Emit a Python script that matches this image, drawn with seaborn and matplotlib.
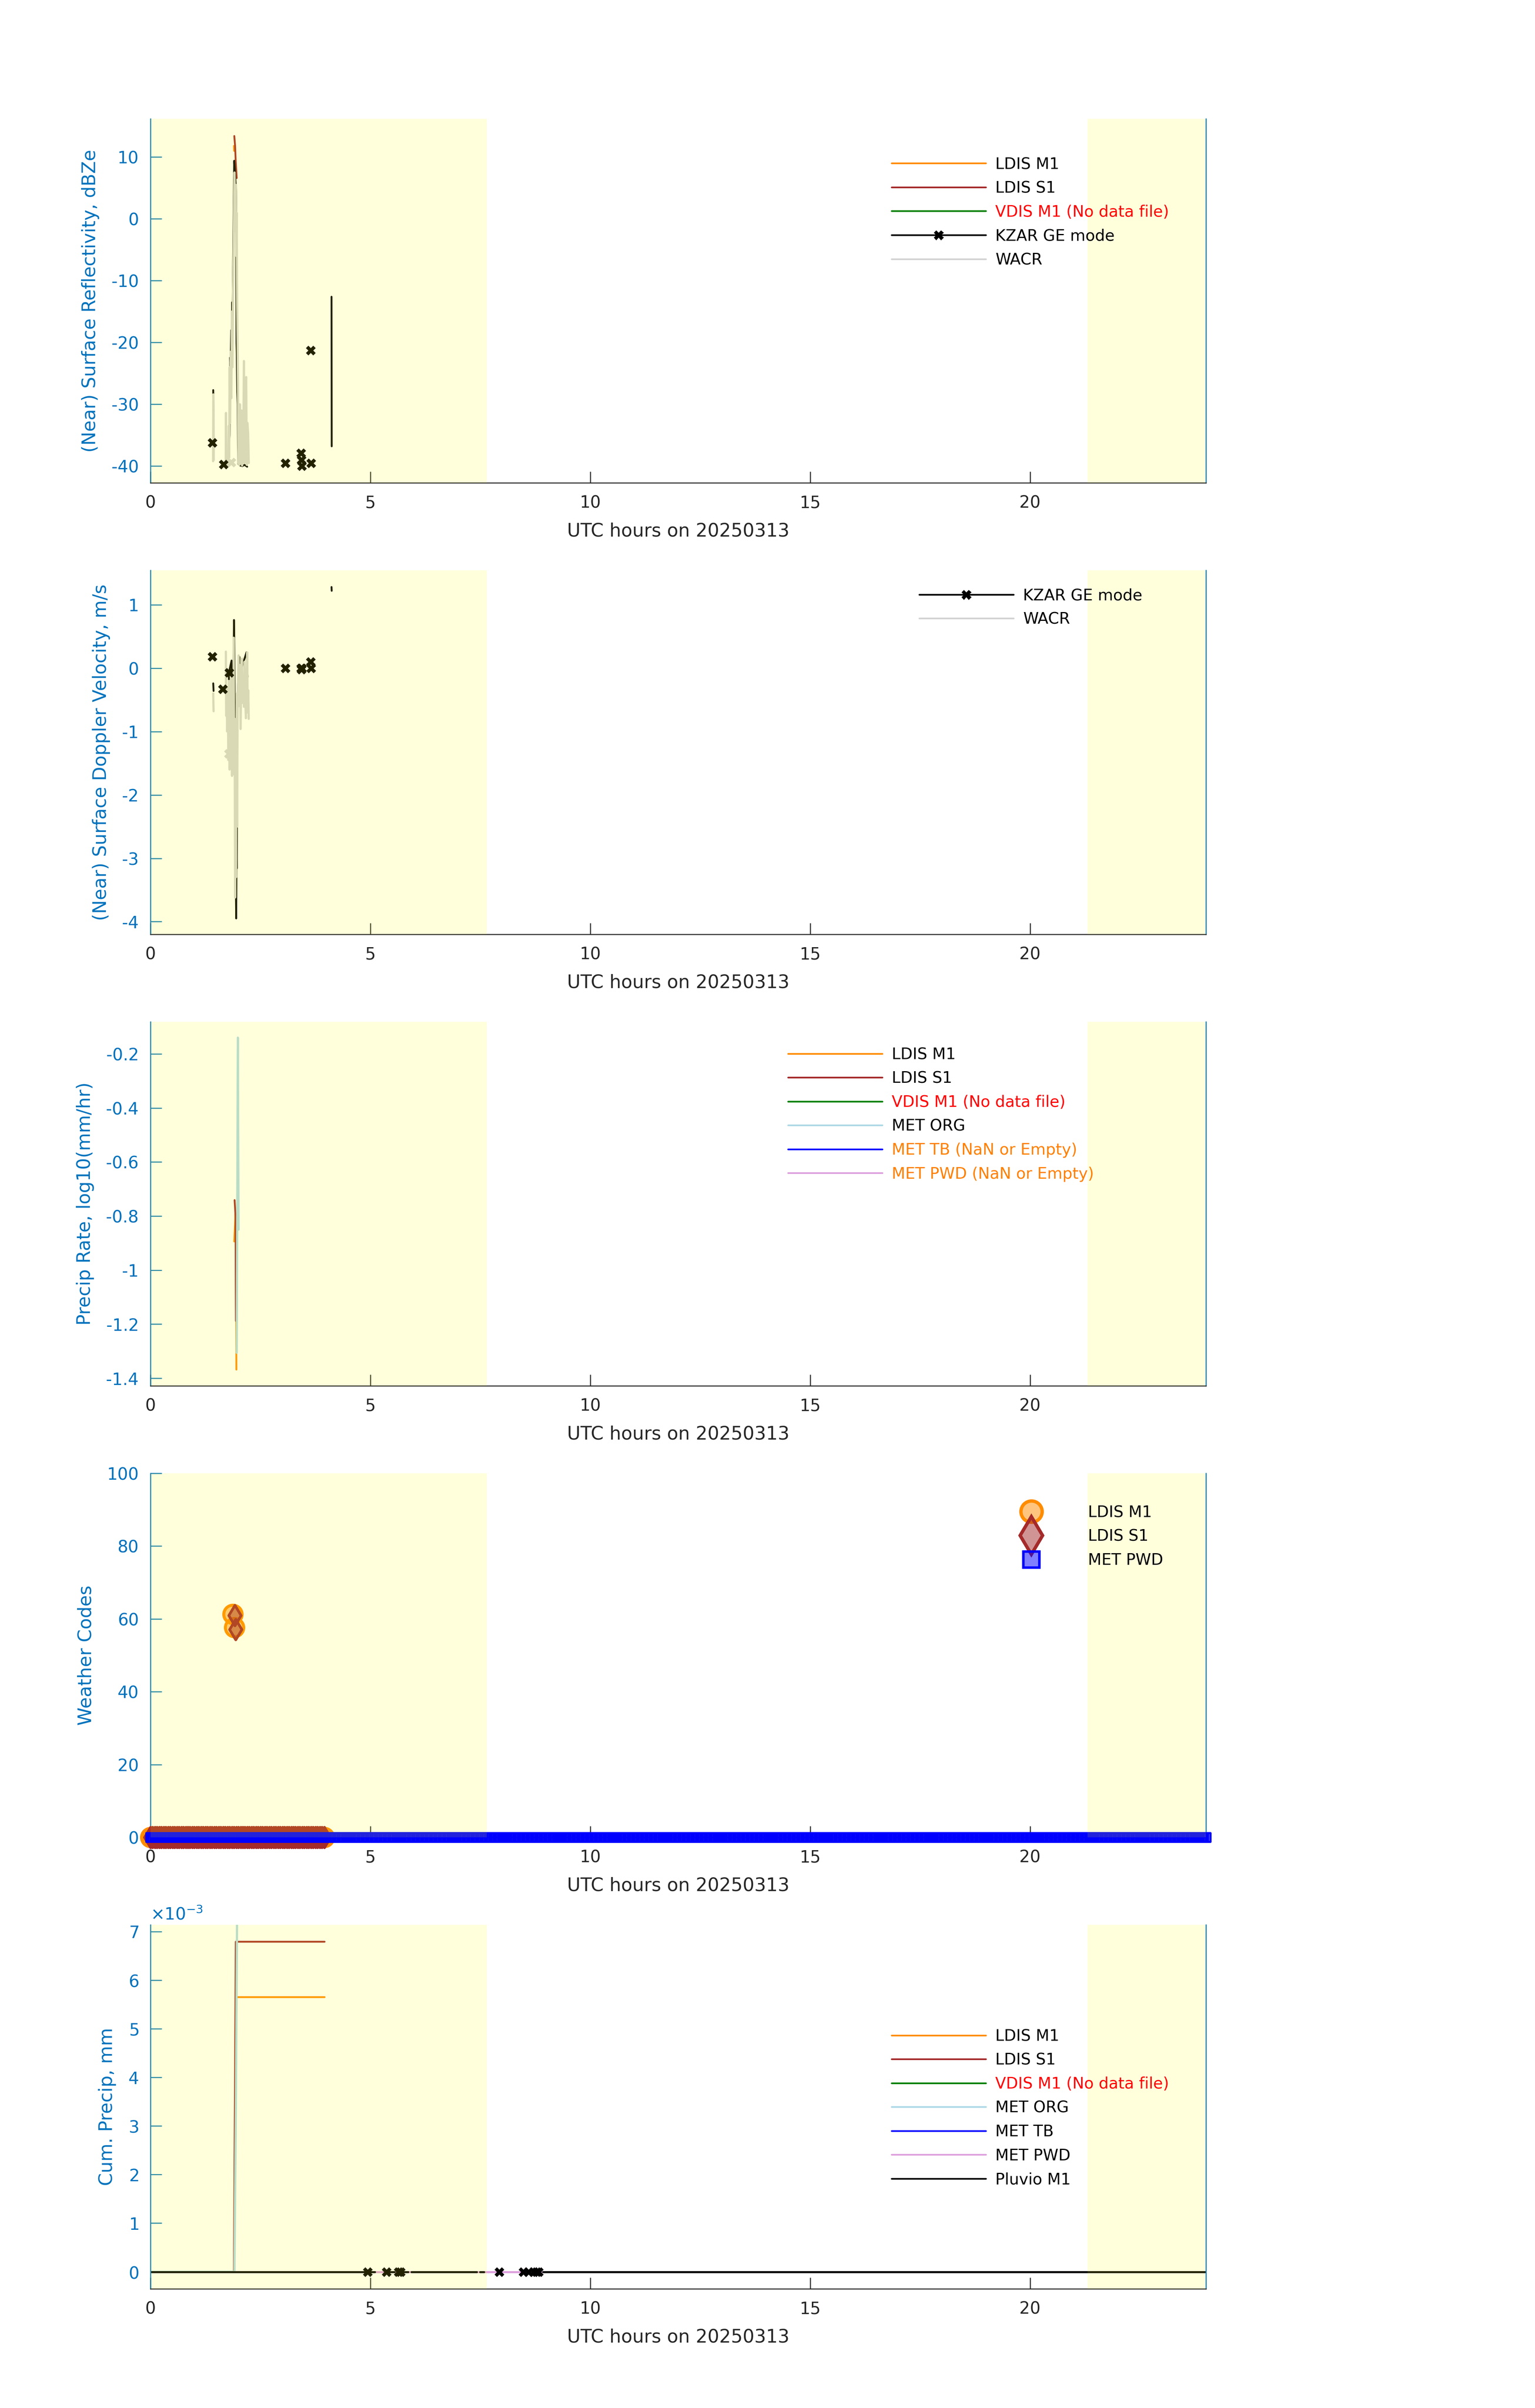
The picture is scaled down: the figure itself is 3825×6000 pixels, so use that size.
import numpy as np
import pandas as pd
import matplotlib
matplotlib.use("Agg")
import matplotlib.pyplot as plt
import seaborn as sns
from matplotlib.lines import Line2D
from matplotlib.ticker import FuncFormatter, ScalarFormatter

sns.set_theme(style="white")
plt.rcParams["font.family"] = ["DejaVu Sans"]
plt.rcParams["axes.unicode_minus"] = False

nan = np.nan

# colours
C_M1 = "#FF8C00"
C_S1 = "#A52A2A"
C_VD = "#008000"
C_ORG = "#ADD8E6"
C_TB = "#0000FF"
C_PWD = "#DDA0DD"
C_WACR = "#D3D3D3"
BLUE = "#0072BD"
DARK = "#262626"

# night shading (UTC hours)
night_start = [0.0, 21.31]
night_end = [7.65, 24.0]

# ---- panel 1: surface reflectivity (dBZe) ----
wacr_t1 = [1.425, 1.430, 1.436, 1.440, nan, 1.712, 1.718, 1.725, nan,
           1.765, 1.780, 1.792, 1.800, 1.812, 1.825, 1.840, 1.852, 1.865, 1.878,
           1.890, 1.902, 1.912, 1.922, 1.932, 1.942, 1.952, 1.962, 1.972, 1.982,
           1.992, 2.002, 2.012, 2.022, 2.035, 2.048, 2.060, 2.072, 2.085, 2.098,
           2.110, 2.125, 2.135, 2.148, 2.162, 2.178, 2.190, 2.205, 2.222, 2.236]
wacr_z1 = [-39.2, -28.4, -31.0, -39.0, nan, -39.5, -31.4, -39.6, nan,
           -39.8, -33.5, -38.6, -24.0, -33.0, -21.5, -29.0, -15.0, -24.0, -12.0,
           -6.0, 2.0, 7.5, 3.5, -2.0, 5.5, -6.0, 1.0, -14.0, -20.0,
           -27.0, -39.6, -33.0, -39.8, -30.0, -39.6, -36.0, -31.0, -39.9, -32.5,
           -39.0, -23.0, -39.5, -36.0, -29.0, -25.6, -39.8, -33.0, -34.7, -39.5]
wacr_mark_t1 = [1.84]
wacr_mark_z1 = [-39.4]

kzar_t1 = [1.428, 1.432, 1.440, nan,
           1.775, 1.782, 1.800, 1.815, 1.822, 1.838, 1.845, 1.858, 1.870, 1.885,
           1.905, 1.920, 1.935, 1.948, 1.958, 1.965, 1.975, 1.985, 1.995, 2.040,
           2.090, 2.140, 2.200, nan, 4.118, 4.122]
kzar_z1 = [-27.7, -31.0, -38.4, nan,
           -36.8, -37.7, -35.0, -22.4, -23.5, -18.0, -20.2, -13.5, -15.0, -4.0,
           9.4, 8.0, 6.0, 4.5, -20.0, -22.0, -28.0, -30.0, -39.6, -39.9,
           -40.0, -39.8, -40.1, nan, -12.6, -36.8]
kzar_mark_t1 = [1.41, 1.66, 3.07, 3.42, 3.43, 3.44, 3.64, 3.65]
kzar_mark_z1 = [-36.2, -39.7, -39.5, -37.9, -39.0, -40.0, -21.3, -39.5]

ldis_m1_t1 = [1.900, 1.904]
ldis_m1_z1 = [11.8, 11.0]
ldis_s1_t1 = [1.907, 1.925, 1.940, 1.962]
ldis_s1_z1 = [13.4, 11.8, 9.2, 6.6]

# ---- panel 2: surface Doppler velocity (m/s) ----
wacr_t2 = [1.428, 1.432, 1.436, nan,
           1.715, 1.722, 1.732, 1.745, 1.758, 1.772, 1.785, 1.800, 1.812, 1.825,
           1.840, 1.855, 1.868, 1.882, 1.895, 1.905, 1.915, 1.925, 1.935, 1.945,
           1.955, 1.962, 1.972, 1.982, 1.992, 2.005, 2.020, 2.035, 2.050, 2.065,
           2.080, 2.095, 2.110, 2.125, 2.140, 2.155, 2.170, 2.185, 2.200, 2.212,
           2.225, 2.235]
wacr_v2 = [-0.40, -0.55, -0.68, nan,
           0.26, -0.75, -0.45, -1.00, -0.30, -1.45, -0.20, -1.60, -0.50, -1.10,
           -0.15, -1.70, -0.60, -1.20, 0.48, -1.68, -0.80, -3.62, -1.90, -3.30,
           -1.20, -0.40, -2.50, -0.70, -0.20, 0.20, -0.60, 0.05, -0.96, -0.20,
           0.15, -0.55, -0.25, -0.61, 0.10, -0.45, -0.79, -0.30, 0.25, -0.70,
           -0.35, -0.80]
wacr_mark_t2 = [1.785]
wacr_mark_v2 = [-1.35]

kzar_t2 = [1.428, 1.432, 1.436, nan,
           1.725, 1.732, 1.768, 1.775, 1.785, 1.845, 1.852, 1.860, 1.866, 1.900,
           1.906, 1.925, 1.930, 1.945, 1.950, 1.958, 1.963, 1.975, 2.020, 2.026,
           2.185, 2.192, 2.210, nan, 4.118, 4.122]
kzar_v2 = [-0.24, -0.30, -0.36, nan,
           -0.51, -0.74, -0.95, -1.35, -0.07, 0.12, -0.06, -1.50, -1.65, 0.76,
           0.50, -1.68, -1.95, -3.62, -3.95, -2.81, -3.16, -0.50, 0.18, -0.10,
           0.25, 0.15, -0.14, nan, 1.28, 1.22]
kzar_mark_t2 = [1.41, 1.64, 1.79, 3.07, 3.42, 3.43, 3.44, 3.64, 3.65]
kzar_mark_v2 = [0.185, -0.33, -0.07, 0.0, 0.0, -0.02, 0.0, 0.10, 0.0]

# ---- panel 3: precip rate, log10(mm/hr) ----
rate_m1_t = [1.906, 1.935, 1.955]
rate_m1 = [-0.894, -0.79, -1.368]
rate_s1_t = [1.914, 1.935, 1.944]
rate_s1 = [-0.741, -0.80, -1.188]
rate_org_t = [1.962, 1.988, 2.004]
rate_org = [-1.306, -0.14, -0.85]

# ---- panel 4: weather codes ----
code_step = 0.05
ldis_band_t = np.arange(0.0, 3.96, code_step)
pwd_band_t = np.arange(0.0, 24.01, code_step)
code_m1_rain_t = [1.87, 1.91]
code_m1_rain = [61.3, 57.6]
code_s1_rain_t = [1.92, 1.94]
code_s1_rain = [61.0, 57.1]

# ---- panel 5: cumulative precip (mm) ----
cum_m1_t = [0.0, 1.905, 1.955, 3.96]
cum_m1 = [0.0, 0.0, 0.00565, 0.00565]
cum_s1_t = [0.0, 1.898, 1.941, 3.96]
cum_s1 = [0.0, 0.0, 0.00679, 0.00679]
cum_org_t = [0.0, 1.91, 1.94, 1.975, 2.01, 3.96]
cum_org = [0.0, 0.0, 0.0030, 0.0080, 0.020, 0.030]
cum_tb_t = [0.0, 24.0]
cum_tb = [0.0, 0.0]
cum_pwd_t = [0.0, 24.0]
cum_pwd = [0.0, 0.0]
pluvio_t = [0.0, 4.88, nan, 4.99, 5.10, nan, 5.42, 5.55, nan, 5.74, 5.86, nan,
            5.93, 7.42, nan, 7.49, 7.58, nan, 8.93, 24.0]
pluvio = [0.0, 0.0, nan, 0.0, 0.0, nan, 0.0, 0.0, nan, 0.0, 0.0, nan,
          0.0, 0.0, nan, 0.0, 0.0, nan, 0.0, 0.0]
pluvio_mark_t = [4.94, 5.37, 5.64, 5.69, 7.93, 8.48, 8.60, 8.72, 8.78, 8.83]
pluvio_mark = [0.0] * len(pluvio_mark_t)


def seg_line(ax, t, v, color, lw=1.1):
    df = pd.DataFrame({"t": t, "v": v})
    df["seg"] = df["v"].isna().cumsum()
    df = df.dropna()
    sns.lineplot(data=df, x="t", y="v", units="seg", estimator=None, sort=False,
                 color=color, lw=lw, ax=ax, legend=False, zorder=2)


def x_marks(ax, t, v, color):
    sns.scatterplot(x=t, y=v, marker="X", s=34, color=color, linewidth=0,
                    ax=ax, legend=False, zorder=2.2)


def style_ax(ax, ylim, yticks, ylabel):
    ax.set_xlim(0, 24)
    ax.set_ylim(*ylim)
    ax.set_xticks([0, 5, 10, 15, 20])
    ax.set_yticks(yticks)
    ax.spines["top"].set_visible(False)
    ax.spines["left"].set_color(BLUE)
    ax.spines["right"].set_color(BLUE)
    ax.spines["bottom"].set_color(DARK)
    for s in ax.spines.values():
        s.set_linewidth(0.6)
    ax.tick_params(axis="y", direction="in", length=6.7, width=0.6, colors=BLUE,
                   labelsize=10, pad=7, left=True)
    ax.tick_params(axis="x", direction="in", length=6.7, width=0.6, colors=DARK,
                   labelsize=10, pad=7, bottom=True)
    ax.set_xlabel("UTC hours on 20250313", fontsize=11, color=DARK, labelpad=6.5)
    ax.set_ylabel(ylabel, fontsize=11, color=BLUE, labelpad=7)
    for a, b in zip(night_start, night_end):
        ax.axvspan(a, b, color="yellow", alpha=0.137, lw=0, zorder=3)


def add_legend(ax, handles, labels, x, y, colors):
    leg = ax.legend(handles, labels, loc="upper left", bbox_to_anchor=(x, y),
                    frameon=False, fontsize=9.4, handlelength=6.0,
                    handletextpad=0.6, labelspacing=0.55, borderpad=0,
                    borderaxespad=0)
    leg.set_zorder(5)
    for txt, c in zip(leg.get_texts(), colors):
        txt.set_color(c)


def lh(color, **kw):
    return Line2D([], [], color=color, lw=1.0, **kw)


fig = plt.figure(figsize=(12.75, 20), dpi=300)
L, W, H = 0.098, 0.6876, 0.1512
ax1 = fig.add_axes([L, 0.7995, W, H])
ax2 = fig.add_axes([L, 0.6120, W, H])
ax3 = fig.add_axes([L, 0.4245, W, H])
ax4 = fig.add_axes([L, 0.2370, W, H])
ax5 = fig.add_axes([L, 0.0495, W, H])

# panel 1
seg_line(ax1, ldis_m1_t1, ldis_m1_z1, C_M1)
seg_line(ax1, ldis_s1_t1, ldis_s1_z1, C_S1)
seg_line(ax1, kzar_t1, kzar_z1, "black")
x_marks(ax1, kzar_mark_t1, kzar_mark_z1, "black")
seg_line(ax1, wacr_t1, wacr_z1, C_WACR, lw=1.3)
x_marks(ax1, wacr_mark_t1, wacr_mark_z1, C_WACR)
style_ax(ax1, (-42.7, 16.2), [-40, -30, -20, -10, 0, 10],
         "(Near) Surface Reflectivity, dBZe")
add_legend(ax1,
           [lh(C_M1), lh(C_S1), lh(C_VD),
            lh("black", marker="X", ms=6, mew=0), lh(C_WACR)],
           ["LDIS M1", "LDIS S1", "VDIS M1 (No data file)", "KZAR GE mode", "WACR"],
           0.7023, 0.895, ["black", "black", "red", "black", "black"])

# panel 2
seg_line(ax2, kzar_t2, kzar_v2, "black")
x_marks(ax2, kzar_mark_t2, kzar_mark_v2, "black")
seg_line(ax2, wacr_t2, wacr_v2, C_WACR, lw=1.3)
x_marks(ax2, wacr_mark_t2, wacr_mark_v2, C_WACR)
style_ax(ax2, (-4.2, 1.545), [-4, -3, -2, -1, 0, 1],
         "(Near) Surface Doppler Velocity, m/s")
add_legend(ax2, [lh("black", marker="X", ms=6, mew=0), lh(C_WACR)],
           ["KZAR GE mode", "WACR"], 0.7285, 0.951, ["black", "black"])

# panel 3
seg_line(ax3, rate_m1_t, rate_m1, C_M1)
seg_line(ax3, rate_s1_t, rate_s1, C_S1)
seg_line(ax3, rate_org_t, rate_org, C_ORG, lw=1.3)
style_ax(ax3, (-1.428, -0.081), [-1.4, -1.2, -1.0, -0.8, -0.6, -0.4, -0.2],
         "Precip Rate, log10(mm/hr)")
ax3.yaxis.set_major_formatter(FuncFormatter(lambda v, p: "%g" % round(v, 2)))
add_legend(ax3,
           [lh(C_M1), lh(C_S1), lh(C_VD), lh(C_ORG), lh(C_TB), lh(C_PWD)],
           ["LDIS M1", "LDIS S1", "VDIS M1 (No data file)", "MET ORG",
            "MET TB (NaN or Empty)", "MET PWD (NaN or Empty)"],
           0.6042, 0.930, ["black", "black", "red", "black", "#FF8000", "#FF8000"])

# panel 4
m1_t = list(ldis_band_t) + code_m1_rain_t
m1_c = [0.0] * len(ldis_band_t) + code_m1_rain
s1_t = list(ldis_band_t) + code_s1_rain_t
s1_c = [0.0] * len(ldis_band_t) + code_s1_rain
sns.scatterplot(x=m1_t, y=m1_c, marker="o", s=120, color="#FF8C0080",
                edgecolor=C_M1, linewidth=1.8, clip_on=False, ax=ax4,
                legend=False, zorder=2.6)
sns.scatterplot(x=s1_t, y=s1_c, marker="d", s=75, color="#A52A2A80",
                edgecolor=C_S1, linewidth=1.6, clip_on=False, ax=ax4,
                legend=False, zorder=2.6)
sns.scatterplot(x=pwd_band_t, y=np.zeros(len(pwd_band_t)), marker="s", s=26,
                color="#0000FF80", edgecolor="blue", linewidth=1.2, clip_on=False,
                ax=ax4, legend=False, zorder=2.7)
style_ax(ax4, (0, 100), [0, 20, 40, 60, 80, 100], "Weather Codes")
add_legend(ax4,
           [Line2D([], [], ls="none", marker="o", ms=12.7, mfc=(1, 0.549, 0, 0.5),
                   mec=C_M1, mew=2),
            Line2D([], [], ls="none", marker="d", ms=16,
                   mfc=(0.647, 0.165, 0.165, 0.5), mec=C_S1, mew=2),
            Line2D([], [], ls="none", marker="s", ms=9.4, mfc=(0, 0, 1, 0.5),
                   mec="blue", mew=1.5)],
           ["LDIS M1", "LDIS S1", "MET PWD"], 0.790, 0.9125,
           ["black", "black", "black"])

# panel 5
seg_line(ax5, cum_m1_t, cum_m1, C_M1)
seg_line(ax5, cum_s1_t, cum_s1, C_S1)
seg_line(ax5, cum_org_t, cum_org, C_ORG, lw=1.3)
seg_line(ax5, cum_tb_t, cum_tb, C_TB)
seg_line(ax5, cum_pwd_t, cum_pwd, C_PWD, lw=1.2)
seg_line(ax5, pluvio_t, pluvio, "black", lw=1.2)
x_marks(ax5, pluvio_mark_t, pluvio_mark, "black")
style_ax(ax5, (-0.00035, 0.00714), [0, 0.001, 0.002, 0.003, 0.004, 0.005, 0.006, 0.007],
         "Cum. Precip, mm")
fmt = ScalarFormatter(useMathText=True)
fmt.set_powerlimits((-3, -3))
ax5.yaxis.set_major_formatter(fmt)
ax5.yaxis.get_offset_text().set_color(BLUE)
ax5.yaxis.get_offset_text().set_fontsize(10)
add_legend(ax5,
           [lh(C_M1), lh(C_S1), lh(C_VD), lh(C_ORG), lh(C_TB), lh(C_PWD), lh("black")],
           ["LDIS M1", "LDIS S1", "VDIS M1 (No data file)", "MET ORG", "MET TB",
            "MET PWD", "Pluvio M1"],
           0.7023, 0.714, ["black", "black", "red", "black", "black", "black", "black"])

fig.savefig("out.png", dpi=300, facecolor="white")
